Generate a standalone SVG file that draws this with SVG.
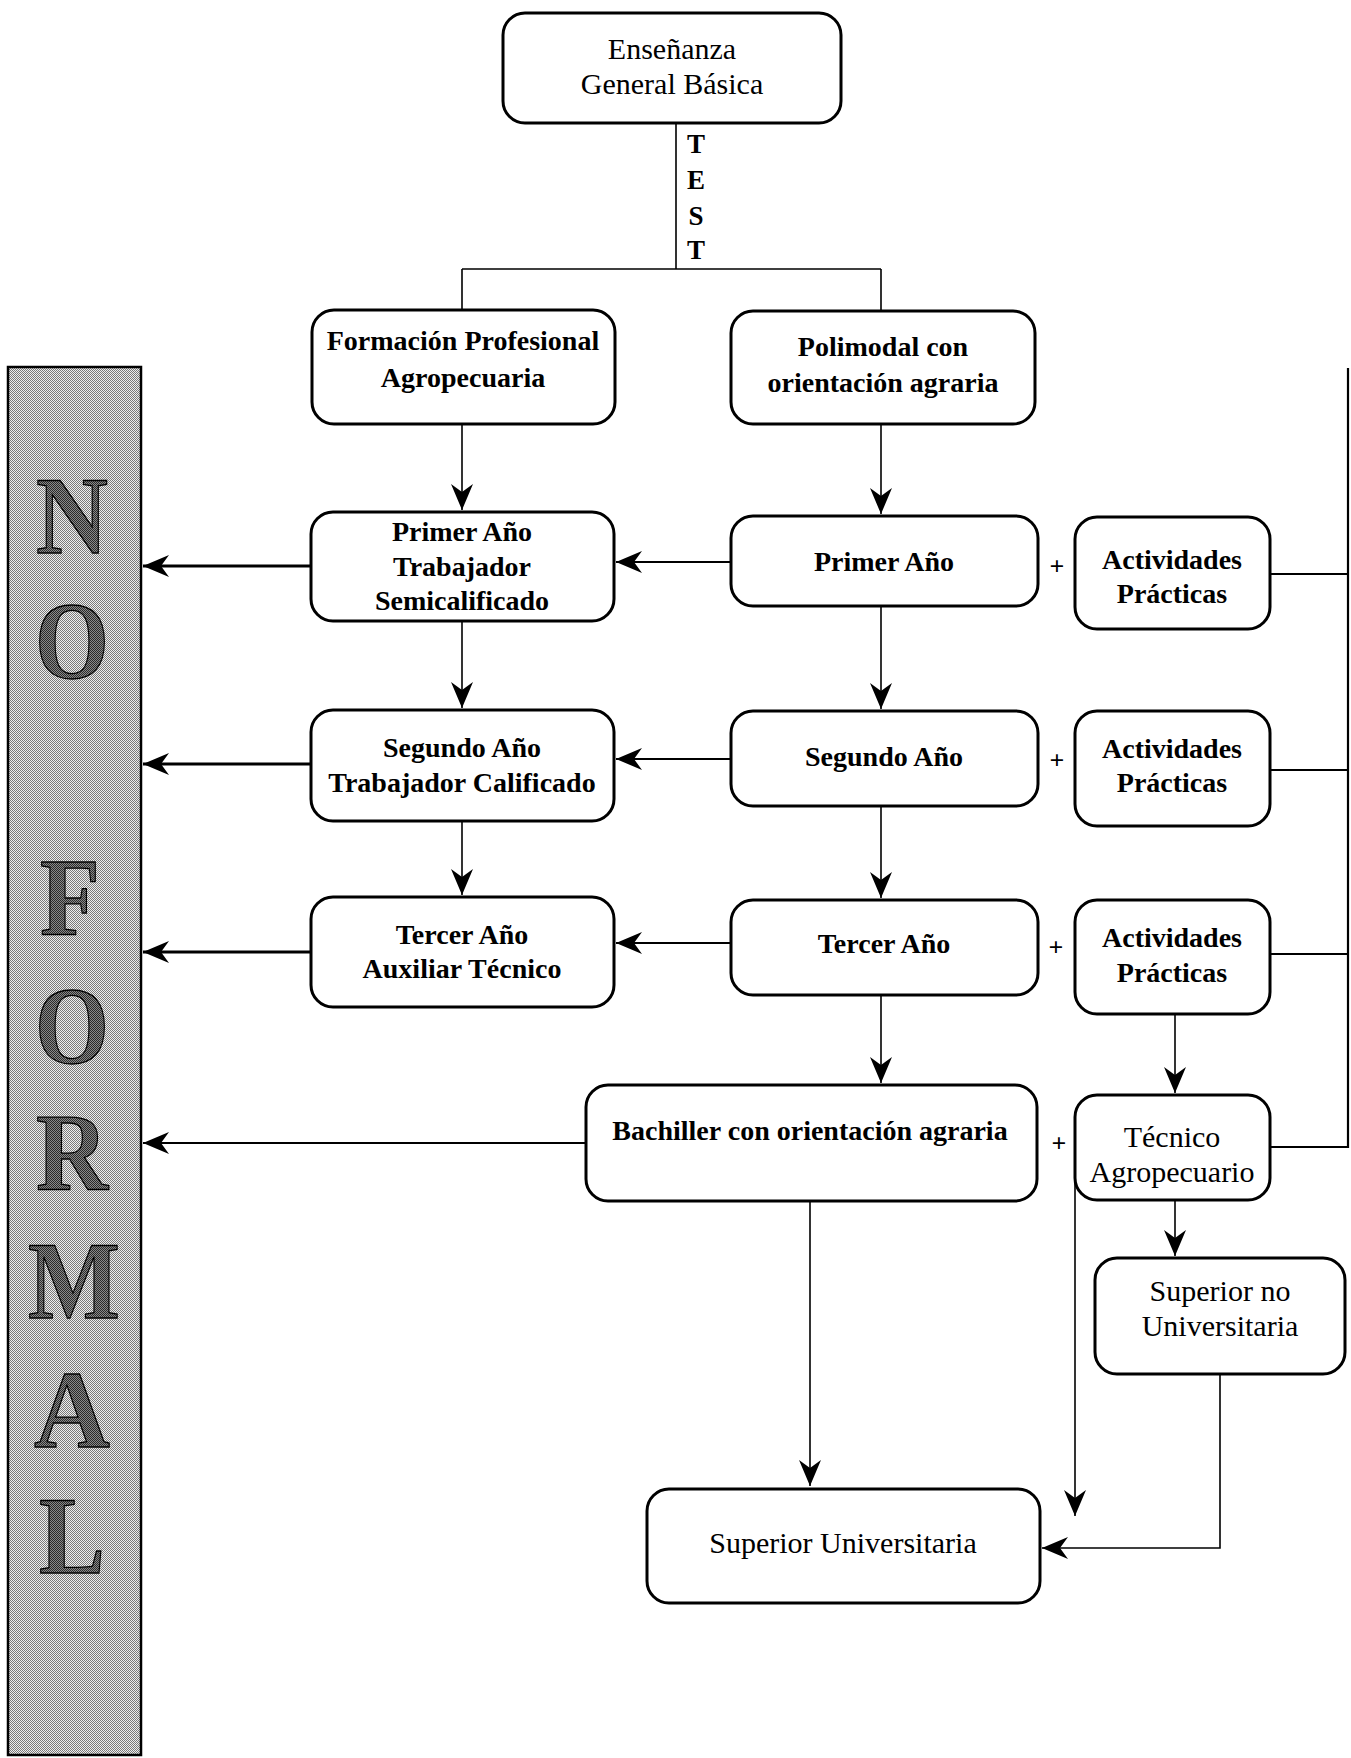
<svg xmlns="http://www.w3.org/2000/svg" width="1351" height="1758" viewBox="0 0 1351 1758">
<style>
.box{fill:#fff;stroke:#000;stroke-width:3}
.t{font-family:"Liberation Serif","Times New Roman",serif;font-size:28px;font-weight:bold;text-anchor:middle;fill:#000}
.r{font-family:"Liberation Serif","Times New Roman",serif;font-size:30px;font-weight:normal;text-anchor:middle;fill:#000}
.big{font-family:"Liberation Serif","Times New Roman",serif;font-size:110px;font-weight:bold;text-anchor:middle;fill:url(#ink);stroke:#000;stroke-width:1.3}
.plus{font-family:"Liberation Serif","Times New Roman",serif;font-size:26px;font-weight:bold;text-anchor:middle;fill:#000}
.thin{fill:none;stroke:#000;stroke-width:1.6}
.med{fill:none;stroke:#000;stroke-width:2.2}
.thick{fill:none;stroke:#000;stroke-width:3}
</style>
<defs>
<pattern id="dots" patternUnits="userSpaceOnUse" width="2" height="2">
<rect width="2" height="2" fill="#efefef"/>
<rect x="0" y="0" width="1" height="1" fill="#7a7a7a"/>
<rect x="1" y="1" width="1" height="1" fill="#7a7a7a"/>
</pattern>
<pattern id="ink" patternUnits="userSpaceOnUse" width="2" height="2">
<rect width="2" height="2" fill="#8a8a8a"/>
<rect x="0" y="0" width="1" height="1" fill="#2a2a2a"/>
<rect x="1" y="1" width="1" height="1" fill="#2a2a2a"/>
</pattern>
<marker id="arr" markerUnits="userSpaceOnUse" viewBox="-28 -12 30 24" refX="0" refY="0" markerWidth="30" markerHeight="24" orient="auto">
<path d="M0,0 L-26,-11 L-18,0 L-26,11 Z" fill="#000"/>
</marker>
</defs>
<rect width="1351" height="1758" fill="#fff"/>

<g id="connectors">
<path class="thin" d="M676,123 V269 M462,269 H881 M462,269 V310 M881,269 V311"/>
<path class="thin" d="M462,424 V510" marker-end="url(#arr)"/>
<path class="thin" d="M881,424 V514" marker-end="url(#arr)"/>
<path class="thin" d="M462,621 V708" marker-end="url(#arr)"/>
<path class="thin" d="M881,606 V709" marker-end="url(#arr)"/>
<path class="thin" d="M462,821 V895" marker-end="url(#arr)"/>
<path class="thin" d="M881,995 V1083" marker-end="url(#arr)"/>
<path class="thin" d="M881,806 V898" marker-end="url(#arr)"/>
<path class="thin" d="M1175,1014 V1093" marker-end="url(#arr)"/>
<path class="thin" d="M1175,1200 V1256" marker-end="url(#arr)"/>
<path class="thin" d="M810,1201 V1486" marker-end="url(#arr)"/>
<path class="thin" d="M1075,1160 V1516" marker-end="url(#arr)"/>
<path class="thin" d="M1220,1374 V1548 H1042" marker-end="url(#arr)"/>
<path class="med" d="M731,562 H616" marker-end="url(#arr)"/>
<path class="med" d="M731,759 H616" marker-end="url(#arr)"/>
<path class="med" d="M731,943 H616" marker-end="url(#arr)"/>
<path class="thick" d="M311,566 H143" marker-end="url(#arr)"/>
<path class="thick" d="M311,764 H143" marker-end="url(#arr)"/>
<path class="thick" d="M311,952 H143" marker-end="url(#arr)"/>
<path class="med" d="M586,1143 H143" marker-end="url(#arr)"/>
<path class="med" d="M1270,574 H1348 M1270,770 H1348 M1270,954 H1348 M1270,1147 H1348 M1348,368 V1148"/>
</g>

<g id="test-label">
<text class="t" style="font-size:27px" x="696" y="153">T</text>
<text class="t" style="font-size:27px" x="696" y="189">E</text>
<text class="t" style="font-size:27px" x="696" y="225">S</text>
<text class="t" style="font-size:27px" x="696" y="259">T</text>
</g>

<g id="plus-signs">
<text class="plus" x="1057" y="575">+</text>
<text class="plus" x="1057" y="769">+</text>
<text class="plus" x="1056" y="956">+</text>
<text class="plus" x="1059" y="1152">+</text>
</g>

<g id="no-formal">
<rect x="8" y="367" width="133" height="1388" fill="url(#dots)" stroke="#000" stroke-width="2.5"/>
<text class="big" x="72" y="553" textLength="72" lengthAdjust="spacingAndGlyphs">N</text>
<text class="big" x="72" y="678" textLength="74" lengthAdjust="spacingAndGlyphs">O</text>
<text class="big" x="70" y="935" textLength="60" lengthAdjust="spacingAndGlyphs">F</text>
<text class="big" x="72" y="1063" textLength="74" lengthAdjust="spacingAndGlyphs">O</text>
<text class="big" x="72" y="1190" textLength="72" lengthAdjust="spacingAndGlyphs">R</text>
<text class="big" x="74" y="1318" textLength="92" lengthAdjust="spacingAndGlyphs">M</text>
<text class="big" x="72" y="1447" textLength="76" lengthAdjust="spacingAndGlyphs">A</text>
<text class="big" x="72" y="1573" textLength="66" lengthAdjust="spacingAndGlyphs">L</text>
</g>

<g id="n_egb">
<rect class="box" x="503" y="13" width="338" height="110" rx="22"/>
<text class="r" x="672" y="59">Enseñanza</text>
<text class="r" x="672" y="94">General Básica</text>
</g>
<g id="n_fpa">
<rect class="box" x="312" y="310" width="303" height="114" rx="22"/>
<text class="t" x="463" y="350">Formación Profesional</text>
<text class="t" x="463" y="387">Agropecuaria</text>
</g>
<g id="n_poli">
<rect class="box" x="731" y="311" width="304" height="113" rx="22"/>
<text class="t" x="883" y="356">Polimodal con</text>
<text class="t" x="883" y="392">orientación agraria</text>
</g>
<g id="n_pats">
<rect class="box" x="311" y="512" width="303" height="109" rx="22"/>
<text class="t" x="462" y="541">Primer Año</text>
<text class="t" x="462" y="576">Trabajador</text>
<text class="t" x="462" y="610">Semicalificado</text>
</g>
<g id="n_p1">
<rect class="box" x="731" y="516" width="307" height="90" rx="22"/>
<text class="t" x="884" y="571">Primer Año</text>
</g>
<g id="n_ap1">
<rect class="box" x="1075" y="517" width="195" height="112" rx="22"/>
<text class="t" x="1172" y="569">Actividades</text>
<text class="t" x="1172" y="603">Prácticas</text>
</g>
<g id="n_stc">
<rect class="box" x="311" y="710" width="303" height="111" rx="22"/>
<text class="t" x="462" y="757">Segundo Año</text>
<text class="t" x="462" y="792">Trabajador Calificado</text>
</g>
<g id="n_s2">
<rect class="box" x="731" y="711" width="307" height="95" rx="22"/>
<text class="t" x="884" y="766">Segundo Año</text>
</g>
<g id="n_ap2">
<rect class="box" x="1075" y="711" width="195" height="115" rx="22"/>
<text class="t" x="1172" y="758">Actividades</text>
<text class="t" x="1172" y="792">Prácticas</text>
</g>
<g id="n_tat">
<rect class="box" x="311" y="897" width="303" height="110" rx="22"/>
<text class="t" x="462" y="944">Tercer Año</text>
<text class="t" x="462" y="978">Auxiliar Técnico</text>
</g>
<g id="n_t3">
<rect class="box" x="731" y="900" width="307" height="95" rx="22"/>
<text class="t" x="884" y="953">Tercer Año</text>
</g>
<g id="n_ap3">
<rect class="box" x="1075" y="900" width="195" height="114" rx="22"/>
<text class="t" x="1172" y="947">Actividades</text>
<text class="t" x="1172" y="982">Prácticas</text>
</g>
<g id="n_bach">
<rect class="box" x="586" y="1085" width="451" height="116" rx="22"/>
<text class="t" x="810" y="1140">Bachiller con orientación agraria</text>
</g>
<g id="n_tec">
<rect class="box" x="1075" y="1095" width="195" height="105" rx="22"/>
<text class="r" x="1172" y="1147">Técnico</text>
<text class="r" x="1172" y="1182">Agropecuario</text>
</g>
<g id="n_snu">
<rect class="box" x="1095" y="1258" width="250" height="116" rx="22"/>
<text class="r" x="1220" y="1301">Superior no</text>
<text class="r" x="1220" y="1336">Universitaria</text>
</g>
<g id="n_su">
<rect class="box" x="647" y="1489" width="393" height="114" rx="22"/>
<text class="r" x="843" y="1553">Superior Universitaria</text>
</g>
</svg>
